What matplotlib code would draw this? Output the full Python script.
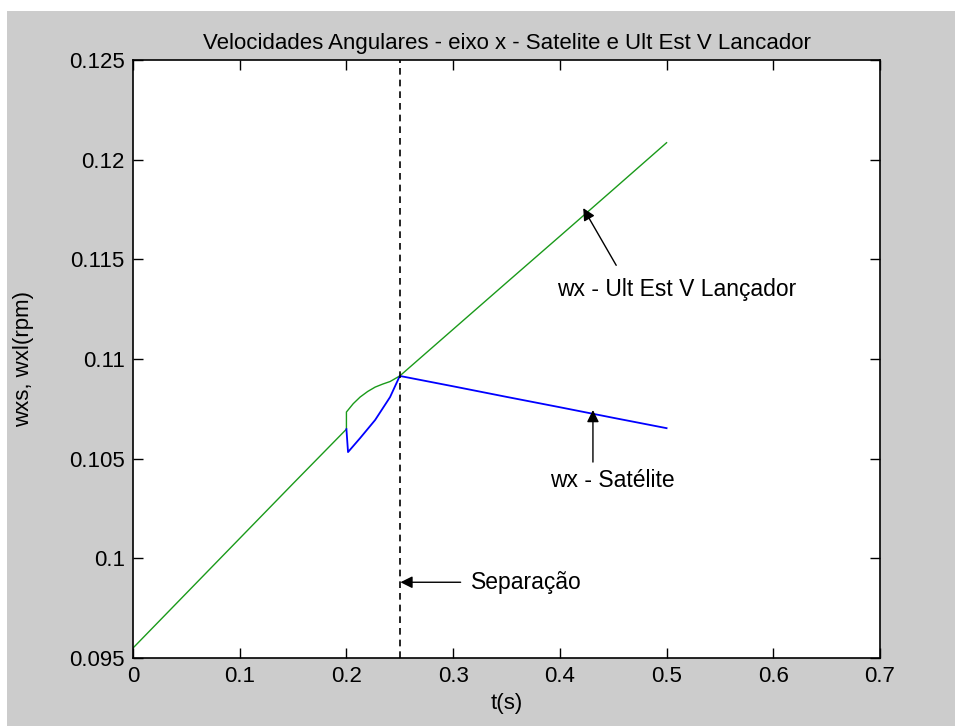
import matplotlib
matplotlib.use("Agg")
import matplotlib.pyplot as plt
from matplotlib.patches import Rectangle

plt.rcParams['font.family'] = ['Liberation Sans', 'DejaVu Sans']

# Launcher last stage (green)
t_lanc = [0.0, 0.05, 0.10, 0.15, 0.2, 0.2, 0.2064, 0.2128, 0.2199, 0.2269, 0.2339, 0.2409, 0.25,
          0.30, 0.35, 0.40, 0.45, 0.5]
w_lanc = [0.0955, 0.09825, 0.1010, 0.10375, 0.10648, 0.10734, 0.10776, 0.10809, 0.10837, 0.10859,
          0.10874, 0.10887, 0.10915, 0.11149, 0.11383, 0.11616, 0.11850, 0.12085]
# Satellite (blue)
t_sat = [0.2, 0.2015, 0.2128, 0.2269, 0.2409, 0.25, 0.30, 0.35, 0.40, 0.45, 0.5]
w_sat = [0.10648, 0.10533, 0.10603, 0.10694, 0.10809, 0.10915, 0.10863, 0.10810, 0.10758, 0.10705, 0.10653]

t_sep = 0.25

fig = plt.figure(figsize=(9.55, 7.26), dpi=100)
fig.patch.set_facecolor('white')
fig.patches.append(Rectangle((7/955, 0), 1, 1 - 11/726, transform=fig.transFigure,
                             facecolor='#cccccc', edgecolor='none', zorder=-10))

ax = fig.add_axes([133/955, 68/726, (880-133)/955, (658-60)/726])
ax.set_facecolor('white')

ax.plot(t_lanc, w_lanc, color='#1a9a1a', lw=1.0)
ax.plot(t_sat, w_sat, color='#0000ff', lw=1.3)
ax.axvline(t_sep, color='black', ls=(0, (4, 3)), lw=1.2)

ax.set_xlim(0, 0.7)
ax.set_ylim(0.095, 0.125)
ax.set_xticks([0, 0.1, 0.2, 0.3, 0.4, 0.5, 0.6, 0.7])
ax.set_xticklabels(['0', '0.1', '0.2', '0.3', '0.4', '0.5', '0.6', '0.7'])
ax.set_yticks([0.095, 0.1, 0.105, 0.11, 0.115, 0.12, 0.125])
ax.set_yticklabels(['0.095', '0.1', '0.105', '0.11', '0.115', '0.12', '0.125'])
ax.tick_params(direction='in', top=True, right=True, length=7, width=1, labelsize=16, pad=6)
for s in ax.spines.values():
    s.set_linewidth(1.2)

ax.set_title('Velocidades Angulares - eixo x - Satelite e Ult Est V Lancador', fontsize=16, pad=8)
ax.set_xlabel('t(s)', fontsize=16, labelpad=4)
ax.set_ylabel('wxs, wxl(rpm)', fontsize=16, labelpad=25)

arrow = dict(arrowstyle='-|>', color='black', lw=1.0, mutation_scale=18, shrinkA=0, shrinkB=0)
ax.annotate('', xy=(0.2506, 0.0988), xytext=(0.307, 0.0988), arrowprops=arrow)
ax.text(0.317, 0.0988, 'Separação', fontsize=16.5, va='center', ha='left')
ax.annotate('', xy=(0.431, 0.10744), xytext=(0.431, 0.10483), arrowprops=arrow)
ax.text(0.391, 0.1039, 'wx - Satélite', fontsize=16.5, va='center', ha='left')
ax.annotate('', xy=(0.4219, 0.11757), xytext=(0.4528, 0.1147), arrowprops=arrow)
ax.text(0.3975, 0.1135, 'wx - Ult Est V Lançador', fontsize=16.5, va='center', ha='left')

fig.savefig('out.png', dpi=100, facecolor=fig.get_facecolor())
